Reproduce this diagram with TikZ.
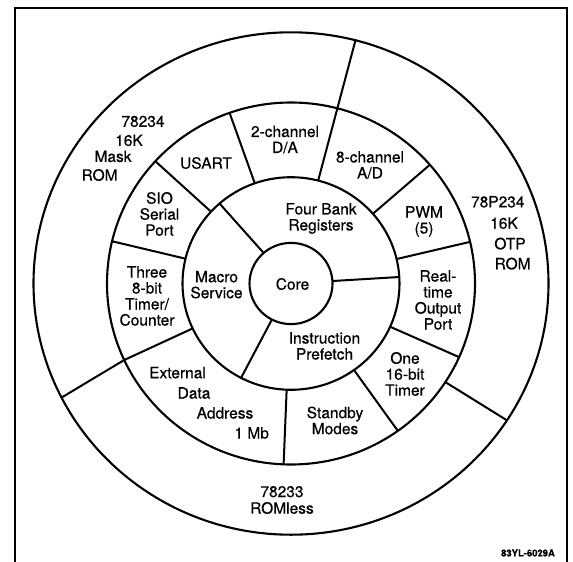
\documentclass[tikz,border=0pt]{standalone}
\usepackage{fontspec}
\setmainfont{TeX Gyre Heros}[FakeBold=0.5]
\begin{document}
\begin{tikzpicture}[x=1pt,y=1pt,
  ring/.style={line width=2.1pt},
  spoke/.style={line width=2pt},
  frame/.style={line width=2pt},
  lbl/.style={font=\fontsize{15.5}{16}\selectfont, align=center, inner sep=0pt},
  tag/.style={font=\fontsize{9.5}{10}\selectfont\bfseries, inner sep=0pt}]
\path[use as bounding box] (0,0) rectangle (573,-562);
% frame
\coordinate (fbl) at (15,-562);
\coordinate (ftl) at (15,-7.5);
\coordinate (ftr) at (567.3,-7.5);
\coordinate (fbr) at (567.3,-562);
\draw[frame] (fbl) -- (ftl) -- (ftr) -- (fbr);
% rings
\coordinate (C) at (291,-283.5);
\draw[ring] (C) ellipse [x radius=41.5, y radius=40.6];
\draw[ring] (C) ellipse [x radius=108.5, y radius=106.3];
\draw[ring] (C) ellipse [x radius=184, y radius=181];
\draw[ring] (C) ellipse [x radius=257.5, y radius=251.2];
% spokes of the inner ring
\begin{scope}[shift={(C)}]
\foreach \a in {131.2,3.5,242.6}
  \draw[spoke] (\a:41.5 and 40.6) -- (\a:108.5 and 106.3);
% spokes of the middle ring
\foreach \a in {109.5,41,13.3,-24,-54.5,-92.3,205,166.5,137.5}
  \draw[spoke] (\a:108.5 and 106.3) -- (\a:184 and 181);
% spokes through to the outer ring
\draw[spoke] (75.5:108.5 and 106.3) -- (75.5:257.5 and 251.2);
\draw[spoke] (-33:184 and 181) -- (-33:257.5 and 251.2);
\draw[spoke] (205:184 and 181) -- (207:257.5 and 251.2);
\end{scope}
% labels: core and inner ring
\node[lbl] (core) at (292.5,-284) {Core};
\node[lbl] (fbr) at (321,-218.5) {Four Bank\\Registers};
\node[lbl] (mac) at (216.5,-284.7) {Macro\\Service};
\node[lbl] (ipf) at (324.5,-346) {Instruction\\Prefetch};
% middle ring
\node[lbl] (da) at (285,-139.5) {2-channel\\D/A};
\node[lbl] (usart) at (206,-163) {USART};
\node[lbl] (ad) at (370,-165) {8-channel\\A/D};
\node[lbl] (pwm) at (424,-221.5) {PWM\\(5)};
\node[lbl] (rtp) at (438,-300) {Real-\\time\\Output\\Port};
\node[lbl] (one) at (405,-374) {One\\16-bit\\Timer};
\node[lbl] (stb) at (335,-420.5) {Standby\\Modes};
\node[lbl] (three) at (147,-296) {Three\\8-bit\\Timer/\\Counter};
\node[lbl] (sio) at (159.5,-214) {SIO\\Serial\\Port};
\node[lbl] (ext1) at (177.5,-372.7) {External};
\node[lbl] (ext2) at (194,-393) {Data};
\node[lbl] (ext3) at (225,-413) {Address};
\node[lbl] (ext4) at (251.7,-433) {1 Mb};
% outer ring
\node[lbl] (m1) at (143,-121.4) {78234};
\node[lbl] (m2) at (129,-140.4) {16K};
\node[lbl] (m3) at (113,-156.4) {Mask};
\node[lbl] (m4) at (99.6,-175) {ROM};
\node[lbl] (p1) at (497.8,-201.8) {78P234};
\node[lbl] (p2) at (504,-223.2) {16K};
\node[lbl] (p3) at (510,-243.6) {OTP};
\node[lbl] (p4) at (512.6,-263.6) {ROM};
\node[lbl,font=\fontsize{15.5}{16.6}\selectfont] (rl) at (282,-500) {78233\\ROMless};
\node[tag] (code) at (528,-553) {83YL-6029A};
\end{tikzpicture}
\end{document}
